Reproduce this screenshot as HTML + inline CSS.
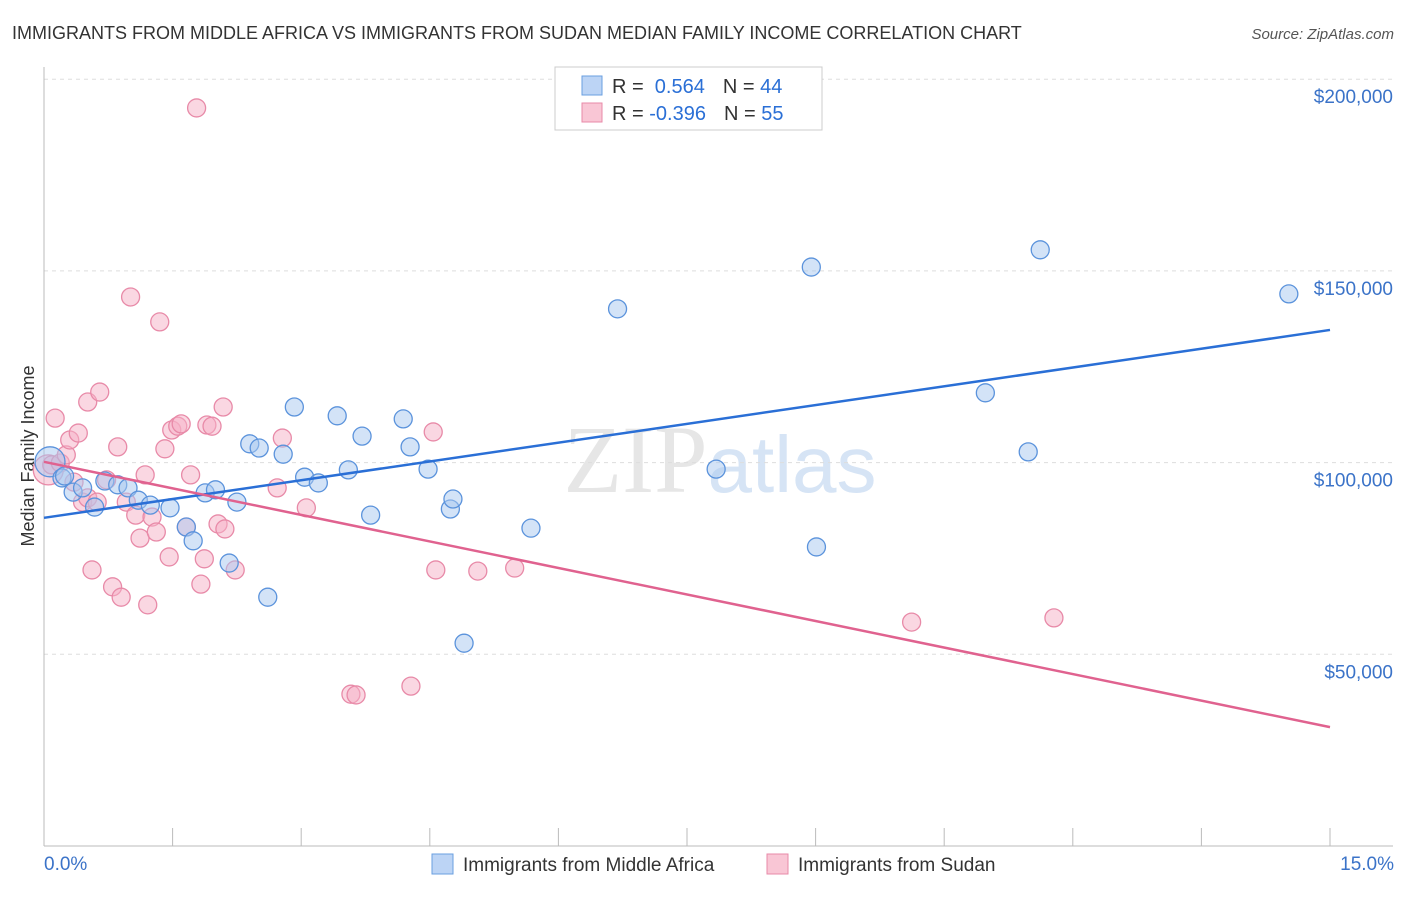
<!DOCTYPE html>
<html><head><meta charset="utf-8"><style>
body{margin:0;background:#fff;font-family:"Liberation Sans",sans-serif}
</style></head><body>
<svg id="chart" width="1406" height="892" xmlns="http://www.w3.org/2000/svg" style="font-family:'Liberation Sans',sans-serif">
<text x="12" y="39" font-size="18" fill="#333">IMMIGRANTS FROM MIDDLE AFRICA VS IMMIGRANTS FROM SUDAN MEDIAN FAMILY INCOME CORRELATION CHART</text>
<text x="1394" y="39" font-size="15" fill="#555" text-anchor="end" font-style="italic">Source: ZipAtlas.com</text>
<text transform="translate(34,456) rotate(-90)" font-size="18" fill="#333" text-anchor="middle">Median Family Income</text>
<text x="720" y="492" font-size="96" text-anchor="middle" fill="#e6e6e6" font-family="Liberation Serif">ZIP<tspan fill="#d6e4f5" font-family="Liberation Sans" font-size="80">atlas</tspan></text>
<g id="grid"></g><g id="axes"></g><g id="pts"></g><g id="trends"></g>
<g>
<rect x="555" y="67" width="267" height="63" fill="#fff" stroke="#ccc"/>
<rect x="582" y="76" width="20" height="19" fill="#bcd4f5" stroke="#6a9fe0"/>
<rect x="582" y="103" width="20" height="19" fill="#f9c6d5" stroke="#e88aa8"/>
<text x="612" y="93" font-size="20" fill="#333">R = <tspan fill="#2a6fd6">&#160;0.564</tspan><tspan dx="18">N = </tspan><tspan fill="#2a6fd6">44</tspan></text>
<text x="612" y="120" font-size="20" fill="#333">R = <tspan fill="#2a6fd6">-0.396</tspan><tspan dx="18">N = </tspan><tspan fill="#2a6fd6">55</tspan></text>
</g>
<g>
<rect x="432" y="854" width="21" height="20" fill="#bcd4f5" stroke="#6a9fe0"/>
<text x="463" y="871" font-size="19" fill="#333">Immigrants from Middle Africa</text>
<rect x="767" y="854" width="21" height="20" fill="#f9c6d5" stroke="#e88aa8"/>
<text x="798" y="871" font-size="19" fill="#333">Immigrants from Sudan</text>
</g>
</svg>
<script>
const xTickLabels=["0.0%","15.0%"];
const yTicks=[50000,100000,150000,200000];
const yTickLabels=["$50,000","$100,000","$150,000","$200,000"];
const blueX=[0.07,0.21,0.24,0.34,0.45,0.59,0.71,0.86,0.98,1.10,1.24,1.47,1.66,1.74,1.88,2.00,2.16,2.25,2.40,2.51,2.61,2.79,2.92,3.04,3.20,3.42,3.55,3.71,3.81,4.19,4.27,4.48,4.74,4.77,4.90,5.68,6.69,7.84,8.95,9.01,10.98,11.48,11.62,14.52];
const blueY=[100.2,96.0,96.5,92.3,93.4,88.4,95.2,94.2,93.4,90.2,88.9,88.2,83.2,79.6,92.1,92.9,73.8,89.7,104.9,103.8,64.9,102.2,114.5,96.2,94.7,112.2,98.1,106.9,86.3,111.4,104.1,98.3,87.9,90.5,52.9,82.9,140.1,98.3,151.0,78.0,118.2,102.8,155.5,144.0];
const pinkX=[0.05,0.13,0.09,0.19,0.26,0.30,0.40,0.51,0.65,0.35,0.45,0.51,0.56,0.62,0.73,0.80,0.86,0.90,0.96,1.01,1.07,1.12,1.18,1.21,1.26,1.31,1.35,1.41,1.46,1.49,1.56,1.60,1.66,1.71,1.78,1.83,1.87,1.90,1.96,2.03,2.09,2.11,2.23,2.72,2.78,3.06,3.58,3.64,4.28,4.54,4.57,5.06,5.49,10.12,11.78];
const pinkY=[98.1,111.6,99.4,99.9,102.0,105.9,107.7,115.8,118.4,94.9,89.7,90.8,72.0,89.7,95.5,67.6,104.1,64.9,89.7,143.2,86.3,80.3,96.8,62.9,85.8,81.9,136.7,103.6,75.4,108.5,109.5,110.1,83.2,96.8,192.5,68.3,74.9,109.8,109.5,84.0,114.5,82.7,72.0,93.4,106.4,88.2,39.6,39.4,41.7,108.0,72.0,71.7,72.5,58.4,59.5];
const blueTrend=[85.6,134.6];
const pinkTrend=[100.2,31.0];
const NS="http://www.w3.org/2000/svg";
const X=v=>44+v/15*1286, Y=k=>846-k/50*191.7;
function mk(tag,attrs,parent){const e=document.createElementNS(NS,tag);for(const a in attrs)e.setAttribute(a,attrs[a]);document.getElementById(parent).appendChild(e);return e;}
yTicks.forEach((t,i)=>{
 const g=mk('line',{x1:44,x2:1393,y1:Y(t/1000),y2:Y(t/1000),stroke:'#ddd','stroke-dasharray':'4,4'},'grid');
 
 
 const l=mk('text',{x:1393,y:Y(t/1000)+24,'font-size':19,fill:'#3b73c8','text-anchor':'end'},'grid');
 l.textContent=yTickLabels[i];
 
 
});
let ax=mk('line',{x1:44,x2:44,y1:67,y2:846,stroke:'#bbb'},'axes');


ax=mk('line',{x1:44,x2:1393,y1:846,y2:846,stroke:'#bbb'},'axes');


for(let i=1;i<=10;i++){const t=mk('line',{x1:X(i*1.5),x2:X(i*1.5),y1:828,y2:846,stroke:'#bbb'},'axes');
 
 }
[[0,'start',44],[15,'end',1394]].forEach((d,i)=>{const t=mk('text',{x:d[2],y:870,'font-size':19,fill:'#3b73c8','text-anchor':d[1]},'axes');t.textContent=xTickLabels[i];
 
 });
function pts(xs,ys,fill,stroke,name){xs.forEach((x,i)=>{const c=mk('circle',{cx:X(x),cy:Y(ys[i]),r:i===0?15:9,fill:fill,'fill-opacity':0.5,stroke:stroke,'stroke-width':1.3},'pts');
 
 });}
pts(pinkX,pinkY,'#f5b0c5','#e88aa8','sudan-point');
pts(blueX,blueY,'#a8c8f0','#5b93dc','middle-africa-point');
let tl=mk('line',{x1:X(0),x2:X(15),y1:Y(blueTrend[0]),y2:Y(blueTrend[1]),stroke:'#2a6fd6','stroke-width':2.5},'trends');


tl=mk('line',{x1:X(0),x2:X(15),y1:Y(pinkTrend[0]),y2:Y(pinkTrend[1]),stroke:'#e0628f','stroke-width':2.5},'trends');


</script>
</body></html>
